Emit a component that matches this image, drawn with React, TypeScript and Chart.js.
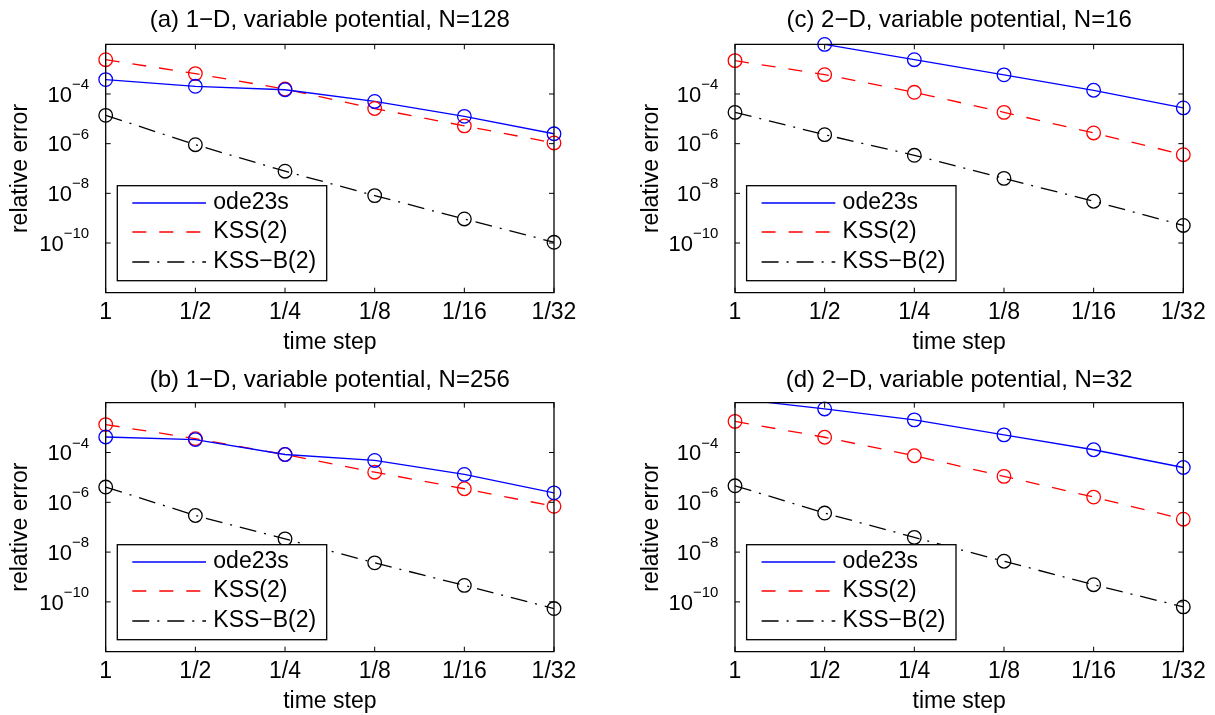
import React, { useEffect, useRef } from 'react';
import { Chart, registerables } from 'chart.js';

Chart.register(...registerables);

// ---- data ----
const timeSteps = ['1', '1/2', '1/4', '1/8', '1/16', '1/32'];
const yTickValues = [1e-4, 1e-6, 1e-8, 1e-10];
const yMin = 1e-12;
const yMax = 1e-2;
const seriesNames = ['ode23s', 'KSS(2)', 'KSS\u2212B(2)'];
const xTitle = 'time step';
const yTitle = 'relative error';

const titleA = '(a) 1\u2212D, variable potential, N=128';
const titleB = '(b) 1\u2212D, variable potential, N=256';
const titleC = '(c) 2\u2212D, variable potential, N=16';
const titleD = '(d) 2\u2212D, variable potential, N=32';

const odeA = [3.8e-4, 2.04e-4, 1.48e-4, 5.0e-5, 1.26e-5, 2.5e-6];
const kssA = [2.4e-3, 6.6e-4, 1.58e-4, 2.6e-5, 5.2e-6, 1.07e-6];
const kssbA = [1.38e-5, 9.1e-7, 7.8e-8, 8.1e-9, 9.3e-10, 1.07e-10];

const odeB = [4.2e-4, 3.3e-4, 8.3e-5, 4.8e-5, 1.32e-5, 2.4e-6];
const kssB = [1.32e-3, 3.6e-4, 8.3e-5, 1.62e-5, 3.5e-6, 6.9e-7];
const kssbB = [4.1e-6, 2.95e-7, 3.4e-8, 3.7e-9, 4.6e-10, 5.4e-11];

const odeC = [1.17e-2, 9.9e-3, 2.4e-3, 5.9e-4, 1.41e-4, 2.75e-5];
const kssC = [2.2e-3, 6.0e-4, 1.17e-4, 1.82e-5, 2.7e-6, 3.6e-7];
const kssbC = [1.82e-5, 2.3e-6, 3.4e-7, 4.0e-8, 4.8e-9, 5.1e-10];

const odeD = [1.45e-2, 5.6e-3, 2.04e-3, 5.1e-4, 1.29e-4, 2.5e-5];
const kssD = [1.78e-3, 4.1e-4, 7.4e-5, 1.1e-5, 1.62e-6, 2.1e-7];
const kssbD = [4.6e-6, 3.7e-7, 3.9e-8, 4.3e-9, 4.9e-10, 6.3e-11];

// ---- styles ----
const FONT = "'Liberation Sans', Arial, Helvetica, sans-serif";
const FS = 23;
const TITLE_FS = 24;
const colors = ['#0000ff', '#ff0000', '#000000'];
const dashes: number[][] = [[], [14, 13], [17, 8, 2, 8]];
const LW = 1.3;
const MR = 6.8;

// y tick labels: "10" with a raised, smaller exponent
const yLabelPlugin = {
  id: 'powLabels',
  afterDraw(chart: any) {
    const { ctx, chartArea: ca, scales } = chart;
    ctx.save();
    ctx.fillStyle = '#000';
    ctx.textBaseline = 'alphabetic';
    ctx.textAlign = 'left';
    scales.y.ticks.forEach((t: any) => {
      const y = scales.y.getPixelForValue(t.value);
      const e = Math.round(Math.log10(t.value));
      const expText = String(e).replace('-', '\u2212');
      ctx.font = `15px ${FONT}`;
      const ew = ctx.measureText(expText).width;
      ctx.font = `22px ${FONT}`;
      const bw = ctx.measureText('10').width;
      const right = ca.left - 16.6;
      ctx.fillText('10', right - ew - bw, y + 7.6);
      ctx.font = `15px ${FONT}`;
      ctx.fillText(expText, right - ew, y - 5);
    });
    ctx.restore();
  },
};

const boxPlugin = {
  id: 'matlabBox',
  afterDatasetsDraw(chart: any) {
    const { ctx, chartArea: ca, scales } = chart;
    const tl = 5;
    ctx.save();
    ctx.strokeStyle = '#000';
    ctx.lineWidth = 1.3;
    ctx.setLineDash([]);
    ctx.beginPath();
    ctx.rect(ca.left, ca.top, ca.right - ca.left, ca.bottom - ca.top);
    ctx.stroke();
    ctx.lineWidth = 1;
    ctx.beginPath();
    scales.y.ticks.forEach((t: any) => {
      const y = scales.y.getPixelForValue(t.value);
      ctx.moveTo(ca.left, y); ctx.lineTo(ca.left + tl, y);
      ctx.moveTo(ca.right, y); ctx.lineTo(ca.right - tl, y);
    });
    scales.x.ticks.forEach((t: any, i: number) => {
      const x = scales.x.getPixelForTick(i);
      ctx.moveTo(x, ca.bottom); ctx.lineTo(x, ca.bottom - tl);
      ctx.moveTo(x, ca.top); ctx.lineTo(x, ca.top + tl);
    });
    ctx.stroke();
    ctx.restore();
  },
};

const legendPlugin = {
  id: 'matlabLegend',
  afterDraw(chart: any) {
    const { ctx, chartArea: ca } = chart;
    const rows = chart.data.datasets.filter((d: any) => d.legendLine);
    const bw = 209.4, bh = 95;
    const bx = ca.left + 11.6;
    const by = ca.bottom - 12 - bh;
    ctx.save();
    ctx.fillStyle = '#ffffff';
    ctx.fillRect(bx, by, bw, bh);
    ctx.strokeStyle = '#000';
    ctx.lineWidth = 1.3;
    ctx.setLineDash([]);
    ctx.strokeRect(bx, by, bw, bh);
    rows.forEach((d: any, i: number) => {
      const y = Math.round(by + 17.6 + i * 29.2);
      ctx.beginPath();
      ctx.setLineDash(d.borderDash || []);
      ctx.strokeStyle = d.borderColor;
      ctx.lineWidth = 1.6;
      ctx.moveTo(bx + 15, y);
      ctx.lineTo(bx + 88.7, y);
      ctx.stroke();
      ctx.setLineDash([]);
      ctx.fillStyle = '#000';
      ctx.font = `${FS}px ${FONT}`;
      ctx.textBaseline = 'middle';
      ctx.textAlign = 'left';
      ctx.fillText(d.label, bx + 96, y);
    });
    ctx.restore();
  },
};

type PanelCfg = {
  title: string;
  series: number[][];
  left: number; top: number; w: number; h: number;
  L: number; T: number; R: number; B: number;
  titleY: number; yTitleX: number; xTitleY: number;
};

const panels: PanelCfg[] = [
  { title: titleA, series: [odeA, kssA, kssbA], left: 0, top: 0, w: 600, h: 360, L: 105.7, T: 44.3, R: 554, B: 292.7, titleY: 20.5, yTitleX: 21, xTitleY: 343 },
  { title: titleC, series: [odeC, kssC, kssbC], left: 600, top: 0, w: 615, h: 360, L: 135, T: 44.3, R: 583.3, B: 292.7, titleY: 20.5, yTitleX: 51.5, xTitleY: 343 },
  { title: titleB, series: [odeB, kssB, kssbB], left: 0, top: 360, w: 600, h: 355, L: 105.7, T: 42.7, R: 554, B: 291.7, titleY: 20.5, yTitleX: 21, xTitleY: 342 },
  { title: titleD, series: [odeD, kssD, kssbD], left: 600, top: 360, w: 615, h: 355, L: 135, T: 42.7, R: 583.3, B: 291.7, titleY: 20.5, yTitleX: 51.5, xTitleY: 342 },
];

function Panel({ cfg }: { cfg: PanelCfg }) {
  const ref = useRef<HTMLCanvasElement | null>(null);
  useEffect(() => {
    if (!ref.current) return;
    const font = { family: FONT, size: FS, weight: 'normal' as const, lineHeight: 1 };
    const titleFont = { family: FONT, size: TITLE_FS, weight: 'normal' as const, lineHeight: 1 };
    const lineSets = cfg.series.map((data, i) => ({
      type: 'line' as const,
      label: seriesNames[i],
      data,
      borderColor: colors[i],
      backgroundColor: colors[i],
      borderWidth: LW,
      borderDash: dashes[i],
      pointRadius: 0,
      fill: false,
      tension: 0,
      clip: 0,
      legendLine: true,
      order: 1,
    }));
    const markerSets = cfg.series.map((data, i) => ({
      type: 'line' as const,
      label: seriesNames[i] + ' markers',
      data,
      showLine: false,
      borderColor: colors[i],
      backgroundColor: 'rgba(0,0,0,0)',
      pointBorderColor: colors[i],
      pointBackgroundColor: 'rgba(0,0,0,0)',
      pointBorderWidth: LW,
      pointRadius: (c: any) => (c.raw > yMax * 1.001 ? 0 : MR),
      clip: false,
      order: 0,
    }));
    const chart = new Chart(ref.current, {
      type: 'line',
      data: { labels: timeSteps, datasets: [...lineSets, ...markerSets] as any },
      options: {
        responsive: false,
        animation: false,
        events: [],
        layout: { padding: { left: 0, top: 0, right: cfg.w - cfg.R, bottom: 0 } },
        plugins: {
          legend: { display: false },
          tooltip: { enabled: false },
          title: {
            display: true,
            fullSize: false,
            align: 'center',
            text: cfg.title,
            color: '#000',
            font: titleFont,
            padding: { top: cfg.titleY - TITLE_FS / 2, bottom: cfg.T - (cfg.titleY - TITLE_FS / 2) - TITLE_FS },
          },
        },
        scales: {
          x: {
            type: 'category',
            offset: false,
            grid: { display: false, drawTicks: false },
            border: { display: false },
            ticks: { color: '#000', font, padding: 8, autoSkip: false, maxRotation: 0, minRotation: 0 },
            title: { display: true, text: xTitle, color: '#000', font, padding: { top: 0, bottom: cfg.h - cfg.xTitleY - FS / 2 } },
            afterFit: (s: any) => { s.height = cfg.h - cfg.B; },
          },
          y: {
            type: 'logarithmic',
            min: yMin,
            max: yMax,
            grid: { display: false, drawTicks: false },
            border: { display: false },
            afterBuildTicks: (s: any) => { s.ticks = yTickValues.map((v) => ({ value: v })); },
            ticks: { display: false, autoSkip: false },
            title: { display: true, text: yTitle, color: '#000', font, padding: { top: cfg.yTitleX - FS / 2, bottom: 0 } },
            afterFit: (s: any) => { s.width = cfg.L; },
          },
        },
      } as any,
      plugins: [yLabelPlugin, boxPlugin, legendPlugin],
    });
    return () => chart.destroy();
  }, [cfg]);
  return (
    <canvas
      ref={ref}
      width={cfg.w}
      height={cfg.h}
      style={{ position: 'absolute', left: cfg.left, top: cfg.top, width: cfg.w, height: cfg.h }}
    />
  );
}

export default function App() {
  return (
    <div style={{ position: 'fixed', left: 0, top: 0, width: 1215, height: 715, background: '#fff' }}>
      {panels.map((p) => (
        <Panel key={p.title} cfg={p} />
      ))}
    </div>
  );
}
